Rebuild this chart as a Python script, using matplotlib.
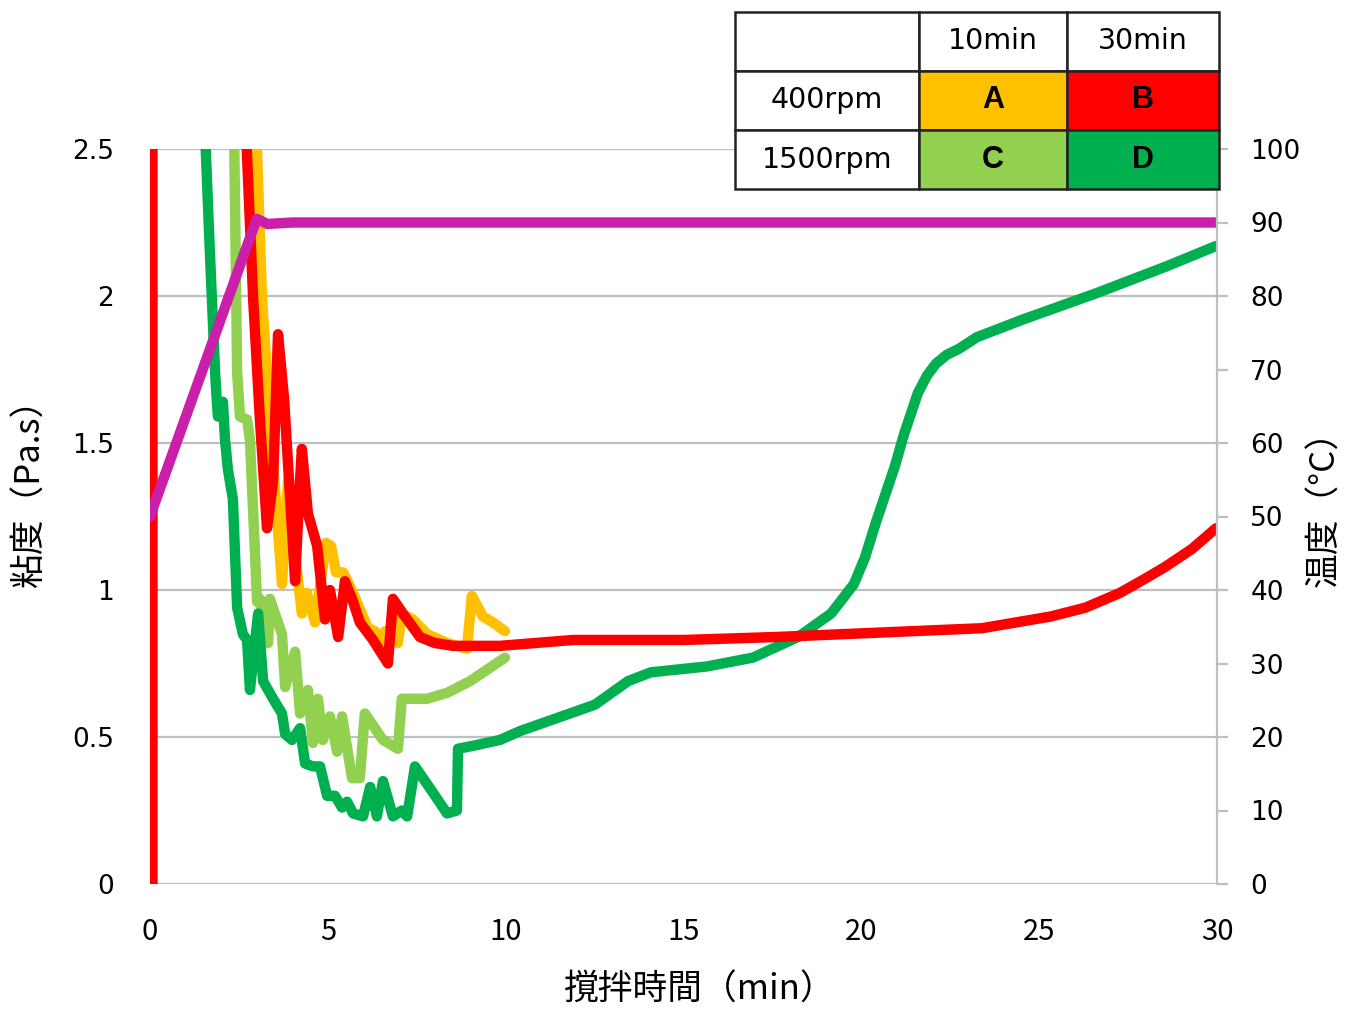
import numpy as np
import matplotlib.pyplot as plt
from matplotlib import font_manager

# viscosity curves (min, Pa.s) - A:400rpm/10min B:400rpm/30min C:1500rpm/10min D:1500rpm/30min
time_a = [0.03, 0.03, 2.95, 3.15, 3.37, 3.71, 3.88, 4.10, 4.27, 4.41, 4.64, 4.95, 5.09, 5.23, 5.43,
          5.71, 6.13, 6.33, 6.47, 6.61, 6.97, 7.08, 7.39, 7.79, 8.35, 8.91, 9.05, 9.36, 9.64, 9.98]
visc_a = [0.0, 3.0, 2.7, 1.99, 1.58, 1.02, 1.37, 1.10, 0.92, 0.99, 0.89, 1.16, 1.15, 1.06, 1.06,
          0.99, 0.87, 0.86, 0.82, 0.86, 0.82, 0.92, 0.90, 0.85, 0.82, 0.80, 0.98, 0.91, 0.89, 0.86]

time_b = [0.07, 0.07, 2.65, 2.90, 3.09, 3.29, 3.46, 3.60, 3.77, 3.94, 4.08, 4.19, 4.27, 4.44, 4.70,
          4.92, 5.06, 5.29, 5.48, 5.71, 5.90, 6.27, 6.69, 6.83, 7.11, 7.59, 8.0, 8.52, 9.84, 11.89,
          15.0, 17.57, 21.45, 23.39, 25.33, 26.3, 27.27, 28.0, 28.56, 29.3, 29.97]
visc_b = [0.0, 3.0, 2.7, 1.99, 1.58, 1.21, 1.37, 1.87, 1.65, 1.31, 1.03, 1.31, 1.48, 1.26, 1.15,
          0.90, 1.00, 0.84, 1.03, 0.96, 0.89, 0.83, 0.75, 0.97, 0.92, 0.84, 0.82, 0.81, 0.81, 0.83,
          0.83, 0.84, 0.86, 0.87, 0.91, 0.94, 0.99, 1.04, 1.08, 1.14, 1.21]

time_c = [0.03, 0.03, 2.35, 2.45, 2.53, 2.73, 2.81, 2.95, 3.01, 3.09, 3.32, 3.37, 3.71, 3.80, 4.08,
          4.22, 4.44, 4.58, 4.72, 4.86, 5.06, 5.26, 5.40, 5.68, 5.90, 6.04, 6.55, 6.97, 7.08, 7.79,
          8.35, 9.0, 9.98]
visc_c = [0.0, 3.0, 2.7, 1.74, 1.59, 1.58, 1.51, 1.13, 0.96, 0.97, 0.82, 0.97, 0.85, 0.67, 0.79,
          0.58, 0.66, 0.48, 0.63, 0.49, 0.57, 0.45, 0.57, 0.36, 0.36, 0.58, 0.49, 0.46, 0.63, 0.63,
          0.65, 0.69, 0.77]

time_d = [0.03, 0.03, 1.5, 1.69, 1.83, 1.88, 1.91, 2.05, 2.11, 2.19, 2.33, 2.45, 2.61, 2.73, 2.81,
          3.04, 3.18, 3.46, 3.71, 3.80, 3.99, 4.22, 4.36, 4.58, 4.78, 4.98, 5.20, 5.40, 5.54, 5.71,
          5.99, 6.19, 6.38, 6.55, 6.83, 7.08, 7.23, 7.45, 7.96, 8.35, 8.63, 8.66, 9.08, 9.84, 10.40,
          12.51, 13.44, 14.08, 15.66, 16.95, 18.22, 19.15, 19.79, 20.1, 20.41, 20.94, 21.2, 21.59,
          21.85, 22.1, 22.4, 22.74, 23.25, 24.54, 26.62, 28.56, 29.97]
visc_d = [0.0, 3.0, 2.7, 2.13, 1.74, 1.64, 1.59, 1.64, 1.51, 1.41, 1.31, 0.94, 0.85, 0.83, 0.66,
          0.92, 0.69, 0.63, 0.58, 0.51, 0.49, 0.53, 0.41, 0.40, 0.40, 0.30, 0.30, 0.26, 0.28, 0.24,
          0.23, 0.33, 0.23, 0.35, 0.23, 0.25, 0.23, 0.40, 0.31, 0.24, 0.25, 0.46, 0.47, 0.49, 0.52,
          0.61, 0.69, 0.72, 0.74, 0.77, 0.84, 0.92, 1.02, 1.11, 1.23, 1.42, 1.53, 1.67,
          1.73, 1.77, 1.80, 1.82, 1.86, 1.92, 2.01, 2.10, 2.17]

# temperature (right axis)
time_temp = [0.0, 3.0, 3.3, 4.0, 30.0]
temp = [50, 90.5, 89.8, 90.0, 90.0]

yticks_left = [0, 0.5, 1, 1.5, 2, 2.5]
yticklabels_left = ['0', '0.5', '1', '1.5', '2', '2.5']
xticks = [0, 5, 10, 15, 20, 25, 30]
yticks_right = np.arange(0, 101, 10)

table_text = [['', '10min', '30min'],
              ['400rpm', 'A', 'B'],
              ['1500rpm', 'C', 'D']]
table_colors = [['white', 'white', 'white'],
                ['white', '#FFC000', '#FF0000'],
                ['white', '#92D050', '#00B050']]

installed = {f.name for f in font_manager.fontManager.ttflist}
narrow = 'Liberation Sans Narrow' if 'Liberation Sans Narrow' in installed else 'Noto Sans CJK JP'
cjk = ['Noto Sans CJK JP', 'DejaVu Sans']

fig = plt.figure(figsize=(13.56, 10.09), dpi=100)
ax = fig.add_axes([150 / 1356, 1 - 884 / 1009, 1067 / 1356, 735 / 1009])
ax2 = ax.twinx()

style = dict(lw=7.5, solid_capstyle='round', solid_joinstyle='round')
ax.plot(time_c, visc_c, color='#92D050', **style)
ax.plot(time_d, visc_d, color='#00B050', **style)
ax.plot(time_a, visc_a, color='#FFC000', **style)
ax.plot(time_b, visc_b, color='#FF0000', **style)
ax2.plot(time_temp, temp, color='#CC1FA9', **style)

ax.set_xlim(0, 30)
ax.set_ylim(0, 2.5)
ax2.set_ylim(0, 100)

ax.set_yticks(yticks_left)
ax.set_yticklabels(yticklabels_left)
ax.set_xticks(xticks)
ax.set_xticklabels([str(x) for x in xticks], family=narrow, fontsize=21)
ax2.set_yticks(yticks_right)

ax.grid(axis='y', color='#BFBFBF', lw=1.6)
ax.set_axisbelow(True)
for s in ax.spines.values():
    s.set_visible(False)
for name, s in ax2.spines.items():
    s.set_visible(name == 'right')
ax2.spines['right'].set_color('#BFBFBF')
ax2.spines['right'].set_linewidth(1.6)

ax.tick_params(axis='y', length=0, pad=26, labelsize=19)
ax.tick_params(axis='x', length=0, pad=24)
ax2.tick_params(axis='y', length=8, width=1.6, color='#BFBFBF', pad=16, labelsize=19)

fig.text(30 / 1356, 1 - 485 / 1009, '粘度（Pa.s）', rotation=90, ha='center', va='center',
         fontsize=25, family=cjk)
fig.text(1325 / 1356, 1 - 500 / 1009, '温度（°C）', rotation=90, ha='center', va='center',
         fontsize=25, family=cjk)
fig.text(700 / 1356, 1 - 990 / 1009, '撹拌時間（min）', ha='center', va='center',
         fontsize=25, family=cjk)

col_w = [184, 148, 152]
tbl = ax2.table(cellText=table_text, cellColours=table_colors, cellLoc='center',
                colWidths=[w / sum(col_w) for w in col_w],
                bbox=[(735 - 150) / 1067, (884 - 189) / 735, 484 / 1067, 177 / 735], zorder=10)
tbl.auto_set_font_size(False)
for (r, c), cell in tbl.get_celld().items():
    cell.set_edgecolor('#222222')
    cell.set_linewidth(1.8)
    txt = cell.get_text()
    if r > 0 and c > 0:
        txt.set_fontsize(22)
        txt.set_family('Liberation Sans')
        txt.set_fontweight('bold')
    else:
        txt.set_fontsize(20.5)

fig.savefig('out.png', dpi=100)
